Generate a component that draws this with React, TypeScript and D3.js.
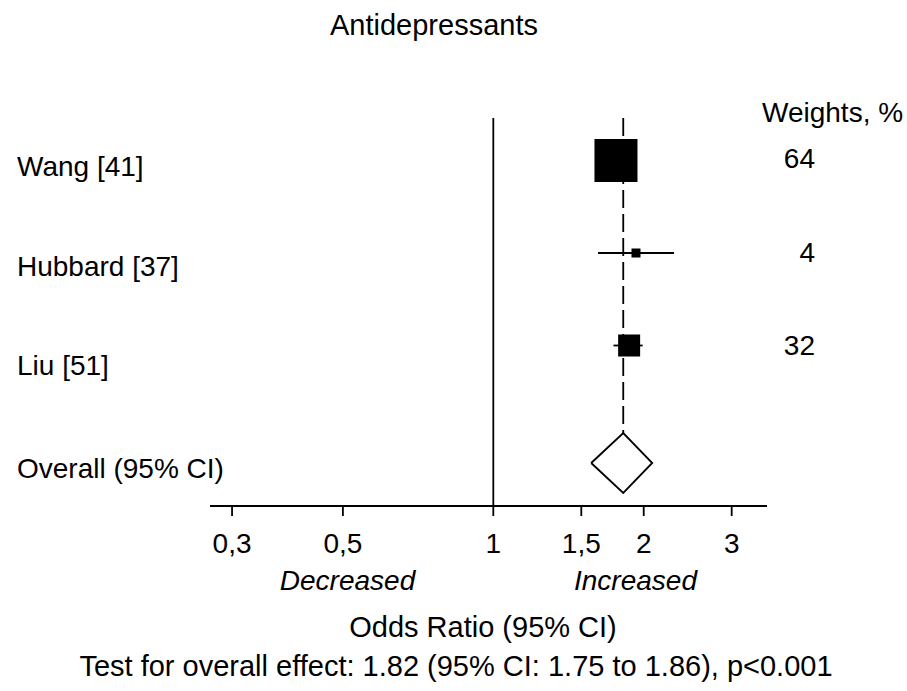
import React from "react";
import * as d3 from "d3";

const studies = ["Wang [41]", "Hubbard [37]", "Liu [51]"];
const estimates = [1.76, 1.93, 1.87];
const lowerCI = [1.68, 1.62, 1.74];
const upperCI = [1.85, 2.3, 1.99];
const weights = [64, 4, 32];
const overallLabel = "Overall (95% CI)";
const overallEstimate = 1.82;
const diamondLower = 1.57;
const diamondUpper = 2.08;
const tickValues = [0.3, 0.5, 1, 1.5, 2, 3];
const tickLabels = ["0,3", "0,5", "1", "1,5", "2", "3"];

const FONT = "'Liberation Sans', Arial, sans-serif";

export default function App() {
  const W = 907, H = 691;
  const x = d3.scaleLog().domain([0.271, 3.53]).range([210, 767]);
  const yRow = d3.scalePoint<string>().domain(studies).range([160.5, 345.5]);
  const yLabel = d3.scalePoint<string>().domain(studies).range([176, 375]);
  const yWeight = d3.scalePoint<string>().domain(studies).range([168, 355]);
  const size = d3.scaleLinear().domain([4, 32, 64]).range([9, 22, 43]);
  const axisY = 506;
  const topY = 118;
  const diamondY = 463;
  const diamondHalfH = 30;
  const fs = 28;
  const fsBig = 29;

  const diamond = d3.line()([
    [x(diamondLower), diamondY],
    [x(overallEstimate), diamondY - diamondHalfH],
    [x(diamondUpper), diamondY],
    [x(overallEstimate), diamondY + diamondHalfH],
    [x(diamondLower), diamondY],
  ]) as string;

  return (
    <svg width={W} height={H} style={{ position: "absolute", left: 0, top: 0, background: "#fff" }} fontFamily={FONT}>
      <rect width={W} height={H} fill="#fff" />
      <text x={434} y={35} fontSize={fsBig} textAnchor="middle">Antidepressants</text>
      <text x={762} y={122} fontSize={fs}>Weights, %</text>

      {/* null line */}
      <line x1={x(1)} x2={x(1)} y1={topY} y2={axisY} stroke="#000" strokeWidth={1.8} />
      {/* overall dashed */}
      <line x1={x(overallEstimate)} x2={x(overallEstimate)} y1={topY} y2={diamondY - diamondHalfH}
        stroke="#000" strokeWidth={1.8} strokeDasharray="18,6" />

      {studies.map((s, i) => {
        const cy = yRow(s)!;
        const sz = size(weights[i]);
        return (
          <g key={s}>
            <text x={17} y={yLabel(s)} fontSize={fs}>{s}</text>
            <line x1={x(lowerCI[i])} x2={x(upperCI[i])} y1={cy} y2={cy} stroke="#000" strokeWidth={1.8} />
            <rect x={x(estimates[i]) - sz / 2} y={cy - sz / 2} width={sz} height={sz} fill="#000" />
            <text x={815} y={yWeight(s)} fontSize={fs} textAnchor="end">{weights[i]}</text>
          </g>
        );
      })}

      <text x={17} y={478} fontSize={fs}>{overallLabel}</text>
      <path d={diamond} fill="#fff" stroke="#000" strokeWidth={1.8} />

      {/* axis */}
      <line x1={x.range()[0]} x2={x.range()[1]} y1={axisY} y2={axisY} stroke="#000" strokeWidth={1.8} />
      {tickValues.map((t, i) => (
        <g key={t}>
          <line x1={x(t)} x2={x(t)} y1={axisY} y2={axisY + 10} stroke="#000" strokeWidth={1.8} />
          <text x={x(t)} y={553} fontSize={fs} textAnchor="middle">{tickLabels[i]}</text>
        </g>
      ))}
      <text x={347.5} y={590} fontSize={fs} fontStyle="italic" textAnchor="middle">Decreased</text>
      <text x={635.5} y={590} fontSize={fs} fontStyle="italic" textAnchor="middle">Increased</text>
      <text x={483} y={637} fontSize={fsBig} textAnchor="middle">Odds Ratio (95% CI)</text>
      <text x={456} y={676} fontSize={fsBig} textAnchor="middle">
        Test for overall effect: 1.82 (95% CI: 1.75 to 1.86), p&lt;0.001
      </text>
    </svg>
  );
}
